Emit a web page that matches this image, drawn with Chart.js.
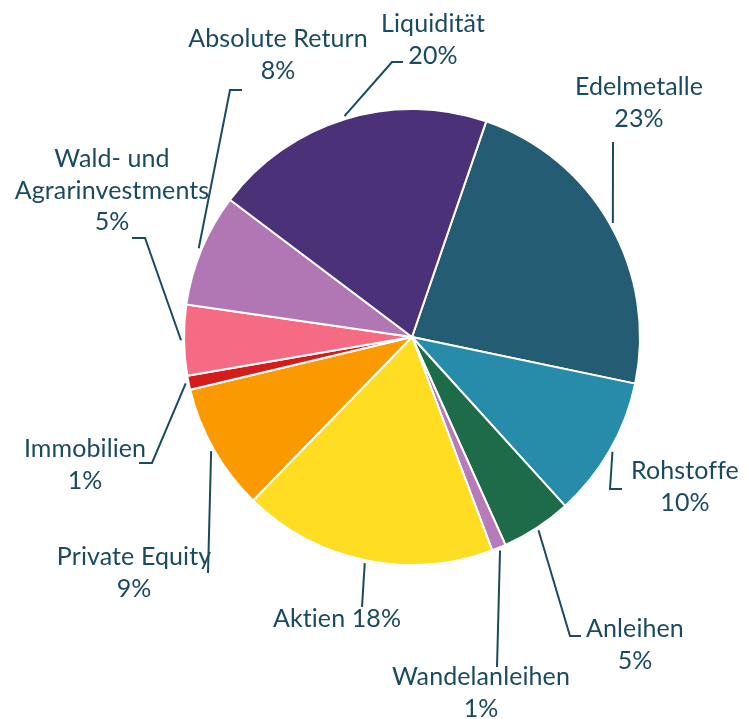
<!DOCTYPE html>
<html>
<head>
<meta charset="utf-8">
<script src="https://cdn.jsdelivr.net/npm/chart.js@4.4.1/dist/chart.umd.min.js"></script>
<style>
html,body{margin:0;padding:0;background:#ffffff;}
canvas{display:block;}
</style>
</head>
<body>
<canvas id="c" width="755" height="719"></canvas>
<script>
// ---- data ----
const categories = ['Edelmetalle','Rohstoffe','Anleihen','Wandelanleihen','Aktien','Private Equity','Immobilien','Wald- und Agrarinvestments','Absolute Return','Liquidität'];
const values = [23,10,5,1,18,9,1,5,8,20];
const labelLines = [
  ['Edelmetalle'],
  ['Rohstoffe'],
  ['Anleihen'],
  ['Wandelanleihen'],
  ['Aktien'],
  ['Private Equity'],
  ['Immobilien'],
  ['Wald- und','Agrarinvestments'],
  ['Absolute Return'],
  ['Liquidität']
];
const inlinePercent = [false,false,false,false,true,false,false,false,false,false];
const colors = ['#245c74','#278ca9','#1d6b48','#b67bbb','#fedd22','#fb9900','#d41c1c','#f56b83','#b077b4','#4b3178'];

// ---- annotation layout (offsets from pie centre, in px for radius 228) ----
const textPos = [
  [227,-242],[273,142],[223,300],[69,348],[-75,290],
  [-278,228],[-327,120],[-300,-170],[-134,-290],[21,-305]
];
const leaderPath = [
  [[201,-195]],
  [[198,152],[210,152]],
  [[158,299],[169,299]],
  [[85,330]],
  [[-50,270]],
  [[-204,236]],
  [[-260,126],[-273,126]],
  [[-267,-99],[-280,-99]],
  [[-182,-247],[-170,-247]],
  [[-20,-275],[-9,-275]]
];

const textColor = '#1a4a60';
const FONT = '25px Lato, "Open Sans", sans-serif';
const LINE_H = 31.5;

const labelPlugin = {
  id: 'labelPlugin',
  afterDatasetsDraw(chart) {
    const ctx = chart.ctx;
    const meta = chart.getDatasetMeta(0);
    ctx.save();
    ctx.strokeStyle = textColor;
    ctx.fillStyle = textColor;
    ctx.lineWidth = 2;
    ctx.font = FONT;
    if ('letterSpacing' in ctx) ctx.letterSpacing = '0.1px';
    ctx.textAlign = 'center';
    ctx.textBaseline = 'alphabetic';
    meta.data.forEach((arc, i) => {
      const p = arc.getProps(['x','y','startAngle','endAngle','outerRadius'], true);
      const s = p.outerRadius / 228;
      const mid = (p.startAngle + p.endAngle) / 2;
      const r0 = p.outerRadius + 3;
      ctx.beginPath();
      ctx.moveTo(p.x + Math.cos(mid) * r0, p.y + Math.sin(mid) * r0);
      leaderPath[i].forEach(pt => ctx.lineTo(p.x + pt[0] * s, p.y + pt[1] * s));
      ctx.stroke();
      const pct = values[i] + '%';
      let lines = labelLines[i].slice();
      if (inlinePercent[i]) lines[lines.length - 1] += ' ' + pct; else lines.push(pct);
      const tx = p.x + textPos[i][0] * s;
      const ty = p.y + textPos[i][1] * s;
      lines.forEach((ln, k) => ctx.fillText(ln, tx, ty + k * LINE_H));
    });
    ctx.restore();
  }
};

new Chart(document.getElementById('c'), {
  type: 'pie',
  data: {
    labels: categories,
    datasets: [{
      data: values,
      backgroundColor: colors,
      borderColor: '#ffffff',
      borderWidth: 2
    }]
  },
  options: {
    responsive: false,
    animation: false,
    rotation: 19,
    layout: { padding: { top: 108, bottom: 153, left: 183, right: 114 } },
    plugins: { legend: { display: false }, tooltip: { enabled: false } }
  },
  plugins: [labelPlugin]
});
</script>
</body>
</html>
